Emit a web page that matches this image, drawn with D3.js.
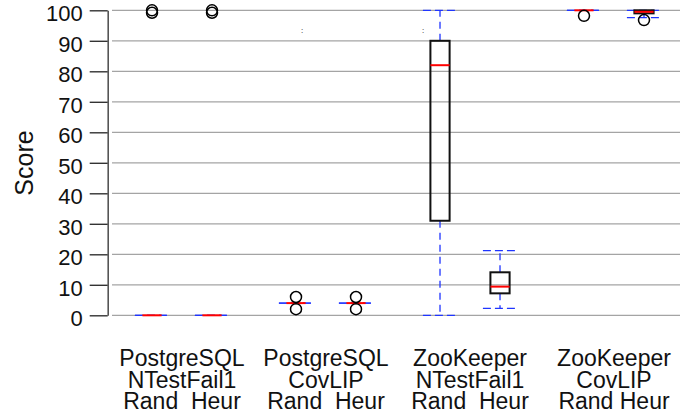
<!DOCTYPE html>
<html>
<head>
<meta charset="utf-8">
<script src="https://cdn.jsdelivr.net/npm/d3@7"></script>
<style>
  body { margin: 0; background: #fff; }
  svg { display: block; font-family: "Liberation Sans", Arial, sans-serif; }
  text { white-space: pre; }
</style>
</head>
<body>
<div id="chart"></div>
<script>
// 数据：每组两个方法（Rand / Heur）
const groupLines = [
    ["PostgreSQL", "NTestFail1", "Rand  Heur"],
    ["PostgreSQL", "CovLIP", "Rand  Heur"],
    ["ZooKeeper", "NTestFail1", "Rand  Heur"],
    ["ZooKeeper", "CovLIP", "Rand Heur"]
];
const methods = ["Rand", "Heur"];

// 箱线图统计量，顺序：PG-NTF Rand, PG-NTF Heur, PG-Cov Rand, PG-Cov Heur, ZK-NTF Rand, ZK-NTF Heur, ZK-Cov Rand, ZK-Cov Heur
const whiskerLow  = [0, 0, 4, 4, 0,   2.3,  100, 97.6];
const q1          = [0, 0, 4, 4, 31,  7.2,  100, 99];
const median      = [0, 0, 4, 4, 82,  9.4,  100, 99.5];
const q3          = [0, 0, 4, 4, 90,  14.1, 100, 100];
const whiskerHigh = [0, 0, 4, 4, 100, 21.2, 100, 100];
const outliers    = [[100, 99.2], [100, 99.2], [6, 2], [6, 2], [], [], [98.2], [96.8]];

const yTicks = [0, 10, 20, 30, 40, 50, 60, 70, 80, 90, 100];

// 图上两个小 ":" 记号（数据坐标）
const strayMarks = [{ pos: 3.5, value: 92.6 }, { pos: 5.52, value: 92.6 }];

const width = 697, height = 420;
const svg = d3.select("#chart").append("svg")
    .attr("width", width)
    .attr("height", height);

const groupGap = 2.4;           // 组间距（位置单位）
const boxHalf = 0.16;           // 箱体半宽
const capHalf = 0.285;          // 须线端点半宽

const x = d3.scaleLinear().domain([0.333, 9.8]).range([112, 680]);
const y = d3.scaleLinear().domain([0, 100]).range([315.3, 10.3]);

const boxes = whiskerLow.map((_, i) => {
    const g = Math.floor(i / 2), m = i % 2;
    return {
        pos: 1 + g * groupGap + m,
        lo: whiskerLow[i], q1: q1[i], med: median[i], q3: q3[i], hi: whiskerHigh[i],
        out: outliers[i], method: methods[m]
    };
});

// 网格线
svg.append("g").selectAll("line")
    .data(yTicks)
    .join("line")
    .attr("x1", x.range()[0])
    .attr("x2", x.range()[1])
    .attr("y1", d => y(d))
    .attr("y2", d => y(d))
    .attr("stroke", "#a4a4a4")
    .attr("stroke-width", 1.2);

// 左轴
const yAxis = d3.axisLeft(y)
    .tickValues(yTicks)
    .tickSize(18)
    .tickSizeOuter(0)
    .tickPadding(7);

const axisG = svg.append("g")
    .attr("transform", "translate(107.7,0)")
    .call(yAxis);
axisG.select(".domain").attr("stroke", "#555").attr("stroke-width", 1.6);
axisG.selectAll(".tick line").attr("stroke", "#333").attr("stroke-width", 1.4);
axisG.selectAll(".tick text")
    .attr("fill", "#111")
    .attr("font-size", "22px")
    .attr("font-family", "Liberation Sans, Arial, sans-serif")
    .attr("dy", "0.47em");

svg.append("text")
    .attr("transform", "translate(33,163) rotate(-90)")
    .attr("text-anchor", "middle")
    .attr("font-size", "25px")
    .attr("fill", "#111")
    .text("Score");

const plot = svg.append("g");

// 须线（虚线）
const whiskerSegs = boxes.flatMap(b => [[b, b.q1, b.lo], [b, b.q3, b.hi]]);
plot.selectAll("line.whisker")
    .data(whiskerSegs)
    .join("line")
    .attr("class", "whisker")
    .attr("x1", d => x(d[0].pos))
    .attr("x2", d => x(d[0].pos))
    .attr("y1", d => y(d[1]))
    .attr("y2", d => y(d[2]))
    .attr("stroke", "#1f35ff")
    .attr("stroke-width", 1.3)
    .attr("stroke-dasharray", "7,5");

// 须线端点
const caps = boxes.flatMap(b => [[b, b.lo], [b, b.hi]]);
plot.selectAll("line.cap")
    .data(caps)
    .join("line")
    .attr("class", "cap")
    .attr("x1", d => x(d[0].pos - capHalf))
    .attr("x2", d => x(d[0].pos + capHalf))
    .attr("y1", d => y(d[1]))
    .attr("y2", d => y(d[1]))
    .attr("stroke", "#1f35ff")
    .attr("stroke-width", 1.3)
    .attr("stroke-dasharray", "8,4");

// 箱体
plot.selectAll("rect.box")
    .data(boxes)
    .join("rect")
    .attr("class", "box")
    .attr("x", d => x(d.pos - boxHalf))
    .attr("width", d => x(d.pos + boxHalf) - x(d.pos - boxHalf))
    .attr("y", d => y(d.q3))
    .attr("height", d => y(d.q1) - y(d.q3))
    .attr("fill", "none")
    .attr("stroke", "#111")
    .attr("stroke-width", 2);

// 中位数
plot.selectAll("line.median")
    .data(boxes)
    .join("line")
    .attr("class", "median")
    .attr("x1", d => x(d.pos - boxHalf))
    .attr("x2", d => x(d.pos + boxHalf))
    .attr("y1", d => y(d.med))
    .attr("y2", d => y(d.med))
    .attr("stroke", "#ff0000")
    .attr("stroke-width", 2);

// 离群点
const fliers = boxes.flatMap(b => b.out.map(v => ({ pos: b.pos, v })));
plot.selectAll("circle.flier")
    .data(fliers)
    .join("circle")
    .attr("class", "flier")
    .attr("cx", d => x(d.pos))
    .attr("cy", d => y(d.v))
    .attr("r", 5.5)
    .attr("fill", "none")
    .attr("stroke", "#000")
    .attr("stroke-width", 1.5);

plot.selectAll("text.stray")
    .data(strayMarks)
    .join("text")
    .attr("class", "stray")
    .attr("x", d => x(d.pos))
    .attr("y", d => y(d.value))
    .attr("text-anchor", "middle")
    .attr("font-size", "8px")
    .attr("fill", "#000")
    .text(":");

// 底部分组标签
const labelG = svg.append("g")
    .attr("text-anchor", "middle")
    .attr("font-size", "23px")
    .attr("fill", "#111");

groupLines.forEach((lines, g) => {
    const cx = x(1 + g * groupGap + 0.5);
    lines.forEach((t, k) => {
        labelG.append("text")
            .attr("x", cx)
            .attr("y", 366 + k * 21.7)
            .text(t);
    });
});
</script>
</body>
</html>
